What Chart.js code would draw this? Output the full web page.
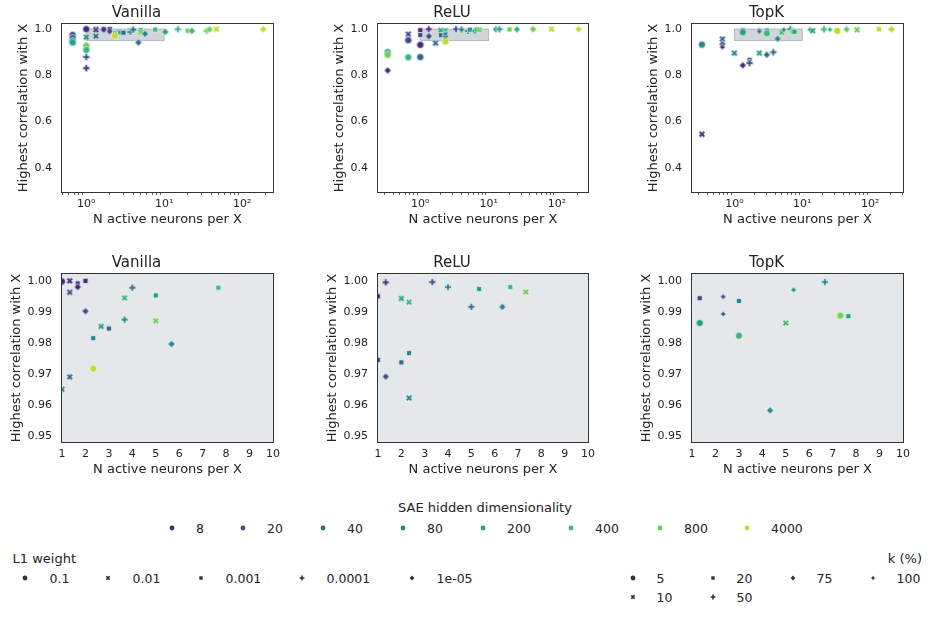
<!DOCTYPE html>
<html>
<head>
<meta charset="utf-8">
<script src="https://cdn.jsdelivr.net/npm/chart.js@4.4.1/dist/chart.umd.min.js"></script>
<style>
body { margin: 0; background: #fff; }
#fig { position: relative; width: 934px; height: 617px; overflow: hidden; font-family: 'DejaVu Sans', sans-serif; color: #222; }
.panel { position: absolute; }
.lg { position: absolute; white-space: nowrap; line-height: 15px; font-size: 12.5px; }
.lg.ttl { font-size: 13px; }
.mk { position: absolute; }
</style>
</head>
<body>
<div id="fig"></div>
<script>
"use strict";

// hue / style levels
const dims = [8, 20, 40, 80, 200, 400, 800, 4000];
const dimColors = ['#472877', '#3e4a88', '#31678d', '#26838d', '#229e87', '#39b777', '#6ecd58', '#b6dd2b'];
const l1Weights = [0.1, 0.01, 0.001, 0.0001, 0.00001];
const l1Labels = ['0.1', '0.01', '0.001', '0.0001', '1e-05'];
const kPercents = [5, 10, 20, 50, 75, 100];
const styleShapes = ['circle', 'x', 'square', 'plus', 'diamond', 'star'];

// Vanilla SAE
const vanN    = [1.0, 1.33, 1.33, 1.67, 1.67, 2.0, 2.0, 2.67, 3.0, 2.33, 2.33, 1.33, 1.0, 3.67, 3.67, 4.0, 5.0, 5.0, 5.67, 7.67,
                 0.667, 0.667, 0.667, 0.667, 1.0, 1.0, 1.0, 1.0, 4.67, 10.33, 15.0, 20.0, 22.7, 35.0, 38.3, 46.7, 186];
const vanCorr = [0.9998, 1.0, 0.9963, 0.9992, 0.998, 1.0, 0.9902, 0.9853, 0.9846, 0.9815, 0.9717, 0.969, 0.965, 0.9945, 0.9875, 0.9978, 0.9953, 0.9871, 0.9796, 0.9978,
                 0.975, 0.962, 0.948, 0.942, 0.928, 0.91, 0.879, 0.831, 0.942, 0.988, 0.9995, 0.993, 0.992, 0.993, 0.999, 0.9995, 0.9995];
const vanDim  = [8, 8, 20, 20, 8, 8, 20, 200, 40, 80, 4000, 40, 80, 400, 80, 40, 200, 800, 80, 400,
                 20, 40, 80, 200, 800, 400, 20, 8, 40, 200, 400, 800, 400, 800, 800, 4000, 4000];
const vanL1   = [0.1, 0.01, 0.01, 0.001, 0.00001, 0.001, 0.00001, 0.01, 0.001, 0.001, 0.1, 0.01, 0.01, 0.01, 0.0001, 0.0001, 0.001, 0.01, 0.00001, 0.001,
                 0.1, 0.1, 0.1, 0.1, 0.1, 0.1, 0.0001, 0.0001, 0.00001, 0.00001, 0.0001, 0.001, 0.00001, 0.0001, 0.00001, 0.01, 0.00001];

// ReLU SAE
const reluN    = [1.0, 1.0, 1.33, 1.33, 2.0, 2.33, 2.0, 2.33, 2.33, 3.33, 4.0, 5.0, 5.33, 6.33, 6.67, 7.33,
                  0.333, 0.333, 0.333, 0.667, 0.667, 0.667, 1.0, 1.0, 1.67, 2.33, 12.8, 14.4, 20.2, 25.9, 44.6, 83, 207];
const reluCorr = [0.995, 0.9745, 0.9995, 0.9691, 0.9943, 0.9931, 0.9737, 0.9767, 0.9622, 0.9996, 0.998, 0.9916, 0.9974, 0.9916, 0.998, 0.9964,
                  0.9, 0.889, 0.821, 0.978, 0.952, 0.878, 0.932, 0.879, 0.939, 0.946, 0.9995, 0.9995, 0.9985, 0.9985, 0.9995, 0.9995, 0.9995];
const reluDim  = [8, 20, 8, 20, 200, 400, 40, 80, 80, 20, 80, 40, 200, 80, 400, 800,
                  200, 800, 8, 20, 20, 400, 8, 40, 40, 4000, 200, 200, 800, 400, 800, 4000, 4000];
const reluL1   = [0.001, 0.001, 0.0001, 0.00001, 0.01, 0.01, 0.001, 0.001, 0.01, 0.0001, 0.0001, 0.0001, 0.001, 0.00001, 0.001, 0.01,
                  0.1, 0.1, 0.00001, 0.01, 0.1, 0.1, 0.1, 0.1, 0.01, 0.1, 0.00001, 0.0001, 0.001, 0.00001, 0.00001, 0.01, 0.00001];

// TopK SAE
const topkN    = [1.33, 1.33, 2.33, 2.33, 3.0, 3.0, 4.33, 5.0, 5.33, 6.67, 7.33, 7.67,
                  0.333, 0.333, 0.667, 0.667, 0.667, 1.0, 1.33, 1.67, 1.67, 2.33, 3.0, 3.74, 12.9, 14.2, 20.8, 25.5, 32.7, 44.9, 64, 134, 200, 206];
const topkCorr = [0.9944, 0.9864, 0.9949, 0.9893, 0.9935, 0.9823, 0.9582, 0.9864, 0.9971, 0.9996, 0.9888, 0.9886,
                  0.933, 0.545, 0.957, 0.935, 0.922, 0.896, 0.843, 0.867, 0.853, 0.896, 0.889, 0.9, 0.998, 0.993, 0.999, 0.998, 0.992, 0.999, 0.997, 0.9995, 0.999, 0.9995];
const topkDim  = [20, 200, 20, 40, 80, 400, 80, 400, 80, 80, 800, 200,
                  80, 8, 40, 20, 8, 80, 8, 40, 20, 200, 40, 40, 200, 200, 400, 400, 4000, 800, 800, 4000, 4000, 4000];
const topkK    = [20, 5, 100, 100, 20, 5, 75, 10, 100, 50, 5, 20,
                  5, 10, 10, 75, 100, 10, 75, 20, 50, 10, 75, 50, 100, 10, 50, 100, 5, 75, 10, 20, 100, 75];

// axes
const fullCorrRange = [0.295, 1.022];
const zoomCorrRange = [0.948, 1.0022];
const zoomNRange = [1, 10];
const vanNRange = [0.488, 249];
const reluNRange = [0.2405, 284];
const topkNRange = [0.238, 303];
const fullCorrTicks = [0.4, 0.6, 0.8, 1.0];
const zoomCorrTicks = [0.95, 0.96, 0.97, 0.98, 0.99, 1.0];
const zoomNTicks = [1, 2, 3, 4, 5, 6, 7, 8, 9, 10];
const logMajorTicks = [1, 10, 100];
const logMinorTicks = [0.2, 0.3, 0.4, 0.5, 0.6, 0.7, 0.8, 0.9, 2, 3, 4, 5, 6, 7, 8, 9,
                       20, 30, 40, 50, 60, 70, 80, 90, 200, 300, 400, 500, 600, 700, 800, 900];
const zoomBox = { n: [1, 10], corr: [0.95, 1.0] };

const TXT = '#222';
const SUP = { 0: '\u2070', 1: '\u00b9', 2: '\u00b2' };
Chart.defaults.font.family = "'DejaVu Sans', sans-serif";
Chart.defaults.color = TXT;

// seaborn-like filled markers drawn into small canvases
function marker(shape, color, r, edge) {
    let s = Math.ceil(r * 2 + 4);
    if (s % 2) s++;
    let c = document.createElement('canvas');
    c.width = s; c.height = s;
    let g = c.getContext('2d');
    g.translate(s / 2, s / 2);
    g.beginPath();
    if (shape == 'circle') {
        g.arc(0, 0, r, 0, 2 * Math.PI);
    } else if (shape == 'square') {
        let h = r * Math.SQRT1_2;
        g.rect(-h, -h, 2 * h, 2 * h);
    } else if (shape == 'diamond') {
        g.moveTo(0, -r); g.lineTo(r, 0); g.lineTo(0, r); g.lineTo(-r, 0); g.closePath();
    } else if (shape == 'star') {
        for (let i = 0; i < 8; i++) {
            let a = -Math.PI / 2 + i * Math.PI / 4;
            let rr = i % 2 ? r * 0.5 : r;
            if (i == 0) g.moveTo(rr * Math.cos(a), rr * Math.sin(a));
            else g.lineTo(rr * Math.cos(a), rr * Math.sin(a));
        }
        g.closePath();
    } else {
        // filled plus, rotated for the X
        let pts = [[-1, -3], [-1, -1], [-3, -1], [-3, 1], [-1, 1], [-1, 3], [1, 3], [1, 1], [3, 1], [3, -1], [1, -1], [1, -3]];
        let rot = shape == 'x' ? Math.PI / 4 : 0;
        pts.forEach((p, i) => {
            let x = p[0] * r / 3, y = p[1] * r / 3;
            let xr = x * Math.cos(rot) - y * Math.sin(rot), yr = x * Math.sin(rot) + y * Math.cos(rot);
            if (i == 0) g.moveTo(xr, yr); else g.lineTo(xr, yr);
        });
        g.closePath();
    }
    g.fillStyle = color;
    g.fill();
    if (edge) {
        g.strokeStyle = '#fff';
        g.lineWidth = edge;
        g.stroke();
    }
    return c;
}

const framePlugin = {
    id: 'frame',
    beforeDatasetsDraw(chart, args, o) {
        let { ctx, chartArea: a } = chart;
        ctx.save();
        if (o.background) {
            ctx.fillStyle = o.background;
            ctx.fillRect(a.left, a.top, a.width, a.height);
        }
        if (o.box) {
            let sx = chart.scales.x, sy = chart.scales.y;
            let x0 = sx.getPixelForValue(o.box.n[0]), x1 = sx.getPixelForValue(o.box.n[1]);
            let y0 = sy.getPixelForValue(o.box.corr[0]), y1 = sy.getPixelForValue(o.box.corr[1]);
            ctx.fillStyle = 'rgba(112,128,144,0.33)';
            ctx.fillRect(x0, y1, x1 - x0, y0 - y1);
            ctx.strokeStyle = 'rgba(112,128,144,0.45)';
            ctx.lineWidth = 1;
            ctx.strokeRect(x0, y1, x1 - x0, y0 - y1);
        }
        ctx.restore();
    },
    afterDraw(chart) {
        let { ctx, chartArea: a } = chart;
        ctx.save();
        ctx.strokeStyle = '#333';
        ctx.lineWidth = 1;
        ctx.strokeRect(Math.round(a.left) - 0.5, Math.round(a.top) - 0.5, Math.round(a.width) + 1, Math.round(a.height) + 1);
        ctx.restore();
    }
};

const fig = document.querySelector('#fig');

function addChart(m, zoom) {
    let top = zoom ? 250 : 0;
    let W = 62 + m.width + 14, H = 228;
    let div = document.createElement('div');
    div.className = 'panel';
    div.style.left = (m.left - 62) + 'px';
    div.style.top = top + 'px';
    let cv = document.createElement('canvas');
    cv.width = W; cv.height = H;
    cv.style.width = W + 'px'; cv.style.height = H + 'px';
    div.appendChild(cv);
    fig.appendChild(div);

    let pts = m.n.map((v, i) => ({ x: v, y: m.corr[i] }));
    let imgs = m.n.map((v, i) => marker(styleShapes[m.style[i]], dimColors[dims.indexOf(m.dim[i])], 3.5, 0.6));
    let xr = zoom ? zoomNRange : m.range;
    let yr = zoom ? zoomCorrRange : fullCorrRange;
    let xt = (zoom ? zoomNTicks : logMajorTicks.concat(logMinorTicks)).filter(v => v >= xr[0] && v <= xr[1]);
    let yt = zoom ? zoomCorrTicks : fullCorrTicks;

    let opts = {
        type: 'scatter',
        data: {
            datasets: [{
                data: pts,
                pointStyle: ctx => (ctx.dataIndex === undefined ? 'circle' : imgs[ctx.dataIndex]),
                pointRadius: 4,
                pointHoverRadius: 4,
                clip: zoom ? 0 : false,
            }],
        },
        options: {
            responsive: false,
            animation: false,
            events: [],
            layout: { padding: { left: 0, top: 0, bottom: 0, right: 14 } },
            plugins: {
                legend: { display: false },
                tooltip: { enabled: false },
                title: { display: true, text: m.title, color: TXT, font: { size: 15, weight: 'normal' }, padding: { top: 4, bottom: 2 } },
                frame: zoom ? { background: 'rgba(112,128,144,0.18)' } : { box: zoomBox },
            },
            scales: {
                x: {
                    type: zoom ? 'linear' : 'logarithmic',
                    min: xr[0], max: xr[1],
                    afterBuildTicks: s => { s.ticks = xt.map(v => ({ value: v })); },
                    afterFit: s => { s.height = 36; s.paddingLeft = 0; s.paddingRight = 0; },
                    ticks: {
                        autoSkip: false, maxRotation: 0, padding: 2.5, color: TXT, font: { size: 11 },
                        callback: v => zoom ? String(v) : (logMajorTicks.includes(v) ? '10' + SUP[Math.round(Math.log10(v))] : ''),
                    },
                    grid: {
                        drawOnChartArea: false, drawTicks: true, tickLength: 3, tickWidth: 0.8,
                        tickColor: c => (!zoom && c.tick && !logMajorTicks.includes(c.tick.value)) ? '#333' : 'rgba(0,0,0,0)',
                    },
                    border: { display: false },
                    title: { display: true, text: 'N active neurons per X', color: TXT, font: { size: 13 }, padding: { top: 0, bottom: 1 } },
                },
                y: {
                    min: yr[0], max: yr[1],
                    afterBuildTicks: s => { s.ticks = yt.map(v => ({ value: v })); },
                    afterFit: s => { s.width = 62; s.paddingTop = 0; s.paddingBottom = 0; },
                    ticks: { autoSkip: false, padding: 2, color: TXT, font: { size: 11 }, callback: v => v.toFixed(zoom ? 2 : 1) },
                    grid: { display: false },
                    border: { display: false },
                    title: { display: true, text: 'Highest correlation with X', color: TXT, font: { size: 13 }, padding: { top: zoom ? 8.7 : 16.2, bottom: 0 } },
                },
            },
        },
        plugins: [framePlugin],
    };
    return new Chart(cv, opts);
}

let models = [
    { title: 'Vanilla', n: vanN, corr: vanCorr, dim: vanDim, style: vanL1.map(v => l1Weights.indexOf(v)), range: vanNRange, left: 62, width: 211 },
    { title: 'ReLU', n: reluN, corr: reluCorr, dim: reluDim, style: reluL1.map(v => l1Weights.indexOf(v)), range: reluNRange, left: 378, width: 210 },
    { title: 'TopK', n: topkN, corr: topkCorr, dim: topkDim, style: topkK.map(v => kPercents.indexOf(v)), range: topkNRange, left: 692, width: 211 },
];
models.forEach(m => { addChart(m, false); addChart(m, true); });

// legends (html text + marker canvases)
function lgText(txt, x, base, cls, right) {
    let d = document.createElement('div');
    d.className = 'lg' + (cls ? ' ' + cls : '');
    d.textContent = txt;
    d.style.top = (base - 12) + 'px';
    if (right) d.style.right = (934 - x) + 'px';
    else d.style.left = x + 'px';
    fig.appendChild(d);
    return d;
}
function lgMarker(shape, color, x, y) {
    let c = marker(shape, color, 2.4, 0);
    c.className = 'mk';
    c.style.left = (x - c.width / 2) + 'px';
    c.style.top = (y - c.height / 2) + 'px';
    fig.appendChild(c);
}

let hueTitle = lgText('SAE hidden dimensionality', 0, 512, 'ttl');
hueTitle.style.left = '0px';
hueTitle.style.width = '970px';
hueTitle.style.textAlign = 'center';

const hueMarkX = [172, 243, 323, 403, 483, 571, 660, 747];
dims.forEach((d, i) => {
    lgMarker('circle', dimColors[i], hueMarkX[i], 528);
    lgText(String(d), hueMarkX[i] + 24, 533);
});

lgText('L1 weight', 12.5, 562.5, 'ttl');
const l1MarkX = [25, 108, 201, 302, 412];
l1Labels.forEach((t, i) => {
    lgMarker(styleShapes[i], '#333', l1MarkX[i], 578);
    lgText(t, l1MarkX[i] + 24.5, 583);
});

lgText('k (%)', 922, 563, 'ttl', true);
const kMarkX = [633, 633, 713, 713, 793, 873];
const kMarkY = [578, 597, 578, 597, 578, 578];
kPercents.forEach((k, i) => {
    lgMarker(styleShapes[i], '#333', kMarkX[i], kMarkY[i]);
    lgText(String(k), kMarkX[i] + 23.5, kMarkY[i] + 5);
});
</script>
</body>
</html>
